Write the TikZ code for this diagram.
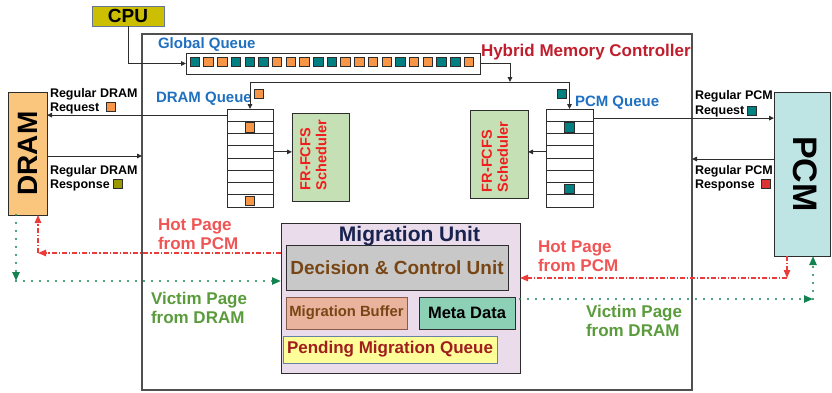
\documentclass[tikz,border=0pt]{standalone}
\usepackage{fontspec}
\setmainfont{Liberation Sans}
\usetikzlibrary{arrows.meta,calc}

% palette
\definecolor{cpufill}{RGB}{204,190,0}
\definecolor{cpuedge}{RGB}{100,120,150}
\definecolor{ctrlgray}{RGB}{80,80,80}
\definecolor{edge}{RGB}{45,45,45}
\definecolor{sqO}{RGB}{247,150,70}
\definecolor{sqT}{RGB}{0,128,128}
\definecolor{sqY}{RGB}{153,153,0}
\definecolor{sqR}{RGB}{220,50,50}
\definecolor{qblue}{RGB}{31,112,192}
\definecolor{ctrlred}{RGB}{192,30,45}
\definecolor{schedred}{RGB}{240,30,30}
\definecolor{schedfill}{RGB}{197,224,180}
\definecolor{dramfill}{RGB}{250,198,125}
\definecolor{pcmfill}{RGB}{190,228,228}
\definecolor{migfill}{RGB}{234,220,234}
\definecolor{migtitle}{RGB}{25,35,80}
\definecolor{dcufill}{RGB}{200,200,200}
\definecolor{brown}{RGB}{120,70,20}
\definecolor{buffill}{RGB}{233,179,158}
\definecolor{bufedge}{RGB}{140,90,75}
\definecolor{metafill}{RGB}{140,208,182}
\definecolor{pendfill}{RGB}{255,255,153}
\definecolor{pendedge}{RGB}{100,130,165}
\definecolor{pendtext}{RGB}{160,30,30}
\definecolor{hottext}{RGB}{240,85,85}
\definecolor{hotline}{RGB}{235,60,60}
\definecolor{victext}{RGB}{90,155,60}
\definecolor{vicline}{RGB}{20,130,80}

\begin{document}
\begin{tikzpicture}[x=1pt,y=-1pt,
  every node/.style={inner sep=0pt, outer sep=0pt},
  box/.style={draw=edge, line width=0.9pt, anchor=north west},
  conn/.style={draw=edge, line width=0.9pt, -{Triangle[length=5pt,width=4.5pt]}},
  hot/.style={draw=hotline, line width=1.2pt, dash pattern=on 5pt off 2pt on 1.2pt off 2pt,
    -{Triangle[length=8pt,width=6.5pt]}},
  vic/.style={draw=vicline, line width=2.2pt, line cap=round, dash pattern=on 0pt off 8pt,
    -{Triangle[length=9pt,width=7pt]}},
  sq/.style={draw=edge, line width=0.6pt, minimum size=9.5pt},
  lbl/.style={font=\fontsize{12.5}{14}\selectfont\bfseries, anchor=base west},
  qlbl/.style={font=\fontsize{15}{17}\selectfont\bfseries, text=qblue, anchor=base west},
  flow/.style={font=\fontsize{17}{19}\selectfont\bfseries, anchor=base west},
  sched/.style={font=\fontsize{14.5}{16}\selectfont\bfseries, text=schedred, rotate=90, align=left}]

\useasboundingbox (0,0) rectangle (832,392);

% controller frame and CPU
\node[box, draw=ctrlgray, line width=1.5pt, minimum width=550pt, minimum height=356pt] (hmc) at (142,34) {};
\node[box, fill=cpufill, draw=cpuedge, line width=1pt, minimum width=72pt, minimum height=20pt,
  font=\fontsize{19}{21}\selectfont\bfseries] (cpu) at (92,6) {CPU};

% global queue
\node[box, minimum width=294pt, minimum height=21pt] (gq) at (186,53) {};
\foreach \c [count=\i] in {T,O,O,T,T,T,O,O,O,T,T,O,O,O,O,T,O,O,T,T,O}
  \node[sq, fill=sq\c] (g\i) at ({194.75+(\i-1)*13.7},62) {};

% DRAM and PCM queues
\foreach \k in {1,...,8} {
  \node[box, minimum width=46pt, minimum height=12.25pt] (dq\k) at (227,{109+(\k-1)*12.25}) {};
  \node[box, minimum width=47pt, minimum height=12.25pt] (pq\k) at (546,{109+(\k-1)*12.25}) {};
}
\node[sq, fill=sqO] (dqs2) at (dq2.center) {};
\node[sq, fill=sqO] (dqs8) at (dq8.center) {};
\node[sq, fill=sqT] (pqs2) at (pq2.center) {};
\node[sq, fill=sqT] (pqs7) at (pq7.center) {};

% schedulers
\node[box, fill=schedfill, minimum width=57pt, minimum height=88pt] (dsch) at (292,113) {};
\node[sched] (dschT) at (313.5,155) {FR-FCFS\\Scheduler};
\node[box, fill=schedfill, minimum width=58pt, minimum height=88pt] (psch) at (470,110) {};
\node[sched] (pschT) at (495,157) {FR-FCFS\\Scheduler};

% memories
\node[box, fill=dramfill, minimum width=39pt, minimum height=123pt] (dram) at (8,92) {};
\node[rotate=90, font=\fontsize{28}{30}\selectfont\bfseries] (dramT) at (dram.center) {DRAM};
\node[box, fill=pcmfill, minimum width=56pt, minimum height=164pt] (pcm) at (774,92) {};
\node[rotate=-90, font=\fontsize{34}{36}\selectfont\bfseries] (pcmT) at (805,174) {PCM};

% migration unit
\node[box, fill=migfill, minimum width=239pt, minimum height=150pt] (mig) at (281,223) {};
\node[font=\fontsize{21}{23}\selectfont\bfseries, text=migtitle, anchor=base] (migT) at (409.5,241) {Migration Unit};
\node[box, fill=dcufill, minimum width=222pt, minimum height=45pt,
  font=\fontsize{19}{21}\selectfont\bfseries, text=brown] (dcu) at (286,245) {Decision \& Control Unit};
\node[box, fill=buffill, draw=bufedge, minimum width=121pt, minimum height=32pt,
  font=\fontsize{14.8}{16}\selectfont\bfseries, text=brown] (mbuf) at (286,297) {Migration Buffer};
\node[box, fill=metafill, minimum width=96pt, minimum height=32pt,
  font=\fontsize{16.5}{18}\selectfont\bfseries] (meta) at (419,297) {Meta Data};
\node[box, fill=pendfill, draw=pendedge, minimum width=214pt, minimum height=27pt,
  font=\fontsize{17}{19}\selectfont\bfseries, text=pendtext] (pend) at (283,336) {Pending Migration Queue};

% titles
\node[qlbl] (gqL) at (158,48) {Global Queue};
\node[font=\fontsize{17}{19}\selectfont\bfseries, text=ctrlred, anchor=base west] (hmcL) at (481,56) {Hybrid Memory Controller};
\node[qlbl] (dqL) at (156,102) {DRAM Queue};
\node[sq, fill=sqO, anchor=north west] (dqLs) at (254,89) {};
\node[qlbl] (pqL) at (575,106) {PCM Queue};
\node[sq, fill=sqT, anchor=north west] (pqLs) at (557,89) {};

% request / response labels
\node[lbl] (dreq1) at (50,97) {Regular DRAM};
\node[lbl] (dreq2) at (50,111) {Request};
\node[sq, fill=sqO, anchor=north west] (dreqS) at (106,102) {};
\node[lbl] (drsp1) at (50,174) {Regular DRAM};
\node[lbl] (drsp2) at (50,188) {Response};
\node[sq, fill=sqY, anchor=north west] (drspS) at (113,179) {};
\node[lbl] (preq1) at (695,99) {Regular PCM};
\node[lbl] (preq2) at (695,114) {Request};
\node[sq, fill=sqT, anchor=north west] (preqS) at (747,106) {};
\node[lbl] (prsp1) at (695,174) {Regular PCM};
\node[lbl] (prsp2) at (695,188) {Response};
\node[sq, fill=sqR, anchor=north west] (prspS) at (761,179) {};

% migration flow labels
\node[flow, text=hottext] (hotL1) at (158,230) {Hot Page};
\node[flow, text=hottext] (hotL2) at (158,249) {from PCM};
\node[flow, text=victext] (vicL1) at (151,304) {Victim Page};
\node[flow, text=victext] (vicL2) at (151,323) {from DRAM};
\node[flow, text=hottext] (hotR1) at (538,252) {Hot Page};
\node[flow, text=hottext] (hotR2) at (538,271) {from PCM};
\node[flow, text=victext] (vicR1) at (586,317) {Victim Page};
\node[flow, text=victext] (vicR2) at (586,336) {from DRAM};

% request path
\coordinate (split) at (510,82);
\draw[conn] (cpu.south) |- (gq.west);
\draw[conn] (gq.east) -| (split);
\draw[conn] (split) -| (dq1.north);
\draw[conn] (split) -| (pq1.north);
\draw[conn] (dq4.east) -- (dq4.east -| dsch.west);
\draw[conn] (pq4.west) -- (pq4.west -| psch.east);

% memory channels
\coordinate (preq) at ([yshift=-3pt]pq1.east);
\coordinate (drspEnd) at (142,156);
\coordinate (prspEnd) at (692,159);
\draw[conn] (dq1.west) -- (dq1.west -| dram.east);
\draw[conn] (dram.east |- drspEnd) -- (drspEnd);
\draw[conn] (preq) -- (preq -| pcm.west);
\draw[conn] (pcm.west |- prspEnd) -- (prspEnd);

% page migration
\coordinate (hotL) at (38,253);
\coordinate (hotR) at (787,278);
\coordinate (vicL) at (16,281);
\coordinate (vicR) at (813,299);
\draw[hot] (mig.west |- hotL) -- (hotL);
\draw[hot] (hotL) -- (hotL |- dram.south);
\draw[hot] (hotR |- pcm.south) -- (hotR);
\draw[hot] (hotR) -- (hotR -| mig.east);
\draw[vic] (vicL |- dram.south) -- (vicL);
\draw[vic] (vicL) -- (vicL -| mig.west);
\draw[vic] (vicR -| mig.east) -- (vicR);
\draw[vic] (vicR) -- (vicR |- pcm.south);
\end{tikzpicture}
\end{document}
